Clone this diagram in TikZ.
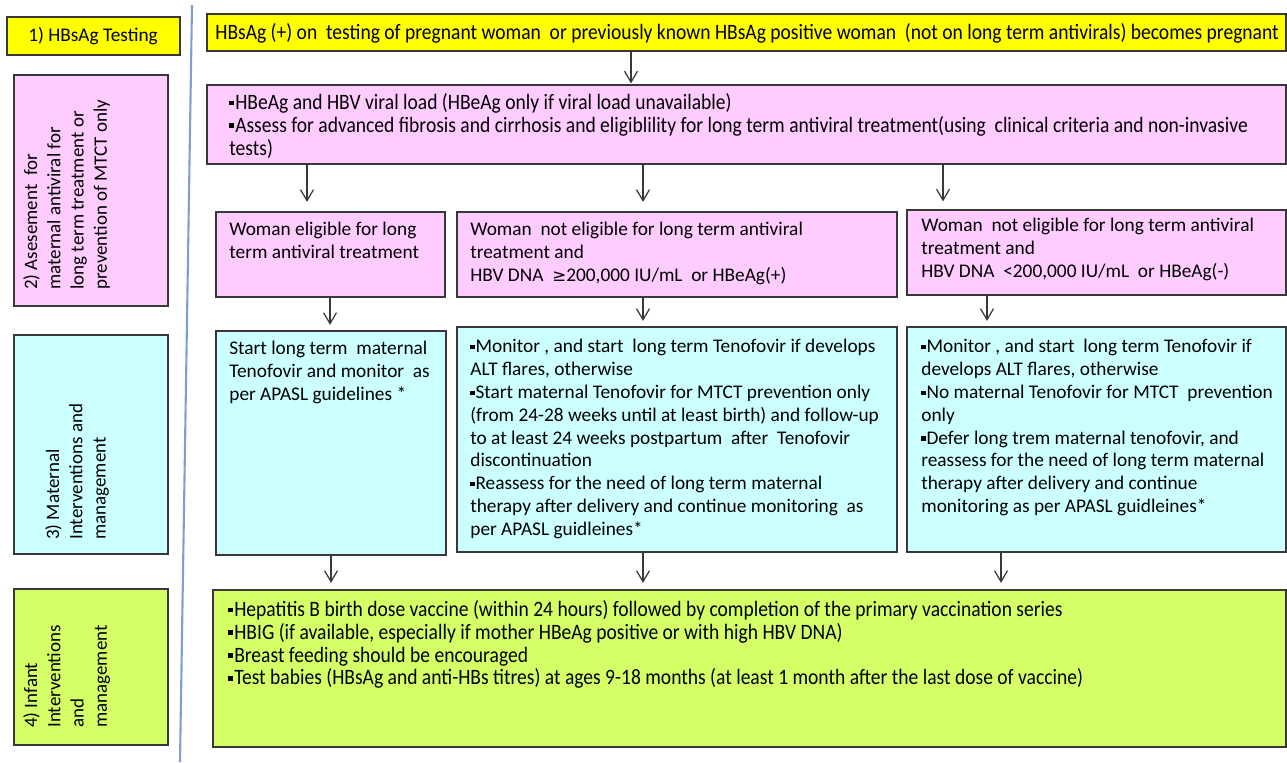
\documentclass[tikz,border=0pt]{standalone}
\usepackage{fontspec}
\setmainfont{Carlito}
\newfontfamily\cond[FakeStretch=0.89]{Carlito}
\newfontfamily\djv{DejaVu Sans}
\usetikzlibrary{arrows.meta,fit}
\definecolor{cyel}{HTML}{FFFF00}
\definecolor{cpink}{HTML}{FFCCFF}
\definecolor{ccyan}{HTML}{CCFFFF}
\definecolor{cgreen}{HTML}{D4FF66}
\definecolor{cborder}{HTML}{383838}
\definecolor{cblue}{HTML}{7F9FD0}
\newcommand{\bu}{\raisebox{0.18em}{\rule{0.22em}{0.22em}}\kern0.05em}
\tikzset{
  box/.style={draw=cborder, line width=0.75pt, inner sep=0pt},
  txt/.style={inner sep=0pt, anchor=north west, align=left, font=\fontsize{11}{13}\selectfont},
  ctxt/.style={inner sep=0pt, anchor=north west, align=left, font=\cond\fontsize{12.5}{13}\selectfont},
  rtxt/.style={inner sep=0pt, anchor=north west, align=left, rotate=90, font=\fontsize{10.8}{13.2}\selectfont},
  arr/.style={draw=cborder, line width=0.7pt, -{Straight Barb[length=2.2mm,width=2.6mm]}}
}
\begin{document}
\begin{tikzpicture}[x=0.02cm,y=-0.02cm]
\useasboundingbox (0,0) rectangle (1287,762);
% separator line
\draw[cblue, line width=1.2pt] (192,5) -- (180,762);
% left labels
\node[box, fill=cyel, fit={(7,17) (180,55)}] (L1) {};
\node[txt, anchor=west] (L1t) at (28,36) {1) HBsAg Testing};
\node[box, fill=cpink, fit={(14,75) (168,306)}] (L2) {};
\node[rtxt] (L2t) at (23,290) {2) Asesement\ \ for\\maternal antiviral for\\long term treatment or\\prevention of MTCT only};
\node[box, fill=ccyan, fit={(14,335) (168,554)}] (L3) {};
\node[rtxt] (L3t) at (45,540) {3) Maternal\\Interventions and\\management};
\node[box, fill=cgreen, fit={(14,589) (168,745)}] (L4) {};
\node[rtxt] (L4t) at (23,728) {4) Infant\\Interventions\\and\\management};
% main boxes
\node[box, fill=cyel, fit={(207,14) (1286,51)}] (top) {};
\node[ctxt, anchor=west] (topt) at (215,33) {HBsAg (+) on\ \ testing of pregnant woman\ \ or previously known HBsAg positive woman\ \ (not on long term antivirals) becomes pregnant};
\node[box, fill=cpink, fit={(207,85) (1286,164)}] (p2) {};
\node[ctxt] (p2t) at (229,93) {\bu HBeAg and HBV viral load (HBeAg only if viral load unavailable)\\\bu Assess for advanced fibrosis and cirrhosis and eligiblility for long term antiviral treatment(using\ \ clinical criteria and non-invasive\\tests)};
% row 2
\node[box, fill=cpink, fit={(216,212) (445,297)}] (rA) {};
\node[txt] (rAt) at (229,222) {Woman eligible for long\\term antiviral treatment};
\node[box, fill=cpink, fit={(457,212) (897,297)}] (rB) {};
\node[txt] (rBt) at (470,222) {Woman\ \ not eligible for long term antiviral\\treatment and\\HBV DNA\ \ {\djv\fontsize{9.5}{13}\selectfont ≥}200,000 IU/mL\ \ or HBeAg(+)};
\node[box, fill=cpink, fit={(907,210) (1286,295)}] (rC) {};
\node[txt] (rCt) at (921,218) {Woman\ \ not eligible for long term antiviral\\treatment and\\HBV DNA\ \ <200,000 IU/mL\ \ or HBeAg(-)};
% row 3
\node[box, fill=ccyan, fit={(216,331) (446,555)}] (cA) {};
\node[txt] (cAt) at (229,341) {Start long term\ \ maternal\\Tenofovir and monitor\ \ as\\per APASL guidelines *};
\node[box, fill=ccyan, fit={(457,327) (897,552)}] (cB) {};
\node[txt] (cBt) at (470,339) {\bu Monitor , and start\ \ long term Tenofovir if develops\\ALT flares, otherwise\\\bu Start maternal Tenofovir for MTCT prevention only\\(from 24-28 weeks until at least birth) and follow-up\\to at least 24 weeks postpartum\ \ after\ \ Tenofovir\\discontinuation\\\bu Reassess for the need of long term maternal\\therapy after delivery and continue monitoring\ \ as\\per APASL guidleines*};
\node[box, fill=ccyan, fit={(907,327) (1286,552)}] (cC) {};
\node[txt] (cCt) at (921,339) {\bu Monitor , and start\ \ long term Tenofovir if\\develops ALT flares, otherwise\\\bu No maternal Tenofovir for MTCT\ \ prevention\\only\\\bu Defer long trem maternal tenofovir, and\\reassess for the need of long term maternal\\therapy after delivery and continue\\monitoring as per APASL guidleines*};
% infant
\node[box, fill=cgreen, fit={(213,590) (1286,747)}] (inf) {};
\node[ctxt] (inft) at (228,600) {\bu Hepatitis B birth dose vaccine (within 24 hours) followed by completion of the primary vaccination series\\\bu HBIG (if available, especially if mother HBeAg positive or with high HBV DNA)\\\bu Breast feeding should be encouraged\\\bu Test babies (HBsAg and anti-HBs titres) at ages 9-18 months (at least 1 month after the last dose of vaccine)};
% arrow x positions
\coordinate (x1) at (631,0);
\coordinate (x2) at (307,0);
\coordinate (x3) at (643,0);
\coordinate (x4) at (943,0);
\coordinate (x5) at (330,0);
\coordinate (x6) at (987,0);
\coordinate (x7) at (331,0);
\coordinate (x8) at (1001,0);
\draw[arr, shorten >=0.02cm] (top.south -| x1) -- (p2.north -| x1);
\draw[arr, shorten >=0.19cm] (p2.south -| x2) -- (rA.north -| x2);
\draw[arr, shorten >=0.19cm] (p2.south -| x3) -- (rB.north -| x3);
\draw[arr, shorten >=0.16cm] (p2.south -| x4) -- (rC.north -| x4);
\draw[arr, shorten >=0.11cm] (rA.south -| x5) -- (cA.north -| x5);
\draw[arr, shorten >=0.11cm] (rB.south -| x3) -- (cB.north -| x3);
\draw[arr, shorten >=0.11cm] (rC.south -| x6) -- (cC.north -| x6);
\draw[arr, shorten >=0.13cm] (cA.south -| x7) -- (inf.north -| x7);
\draw[arr, shorten >=0.13cm] (cB.south -| x3) -- (inf.north -| x3);
\draw[arr, shorten >=0.13cm] (cC.south -| x8) -- (inf.north -| x8);
\end{tikzpicture}
\end{document}
